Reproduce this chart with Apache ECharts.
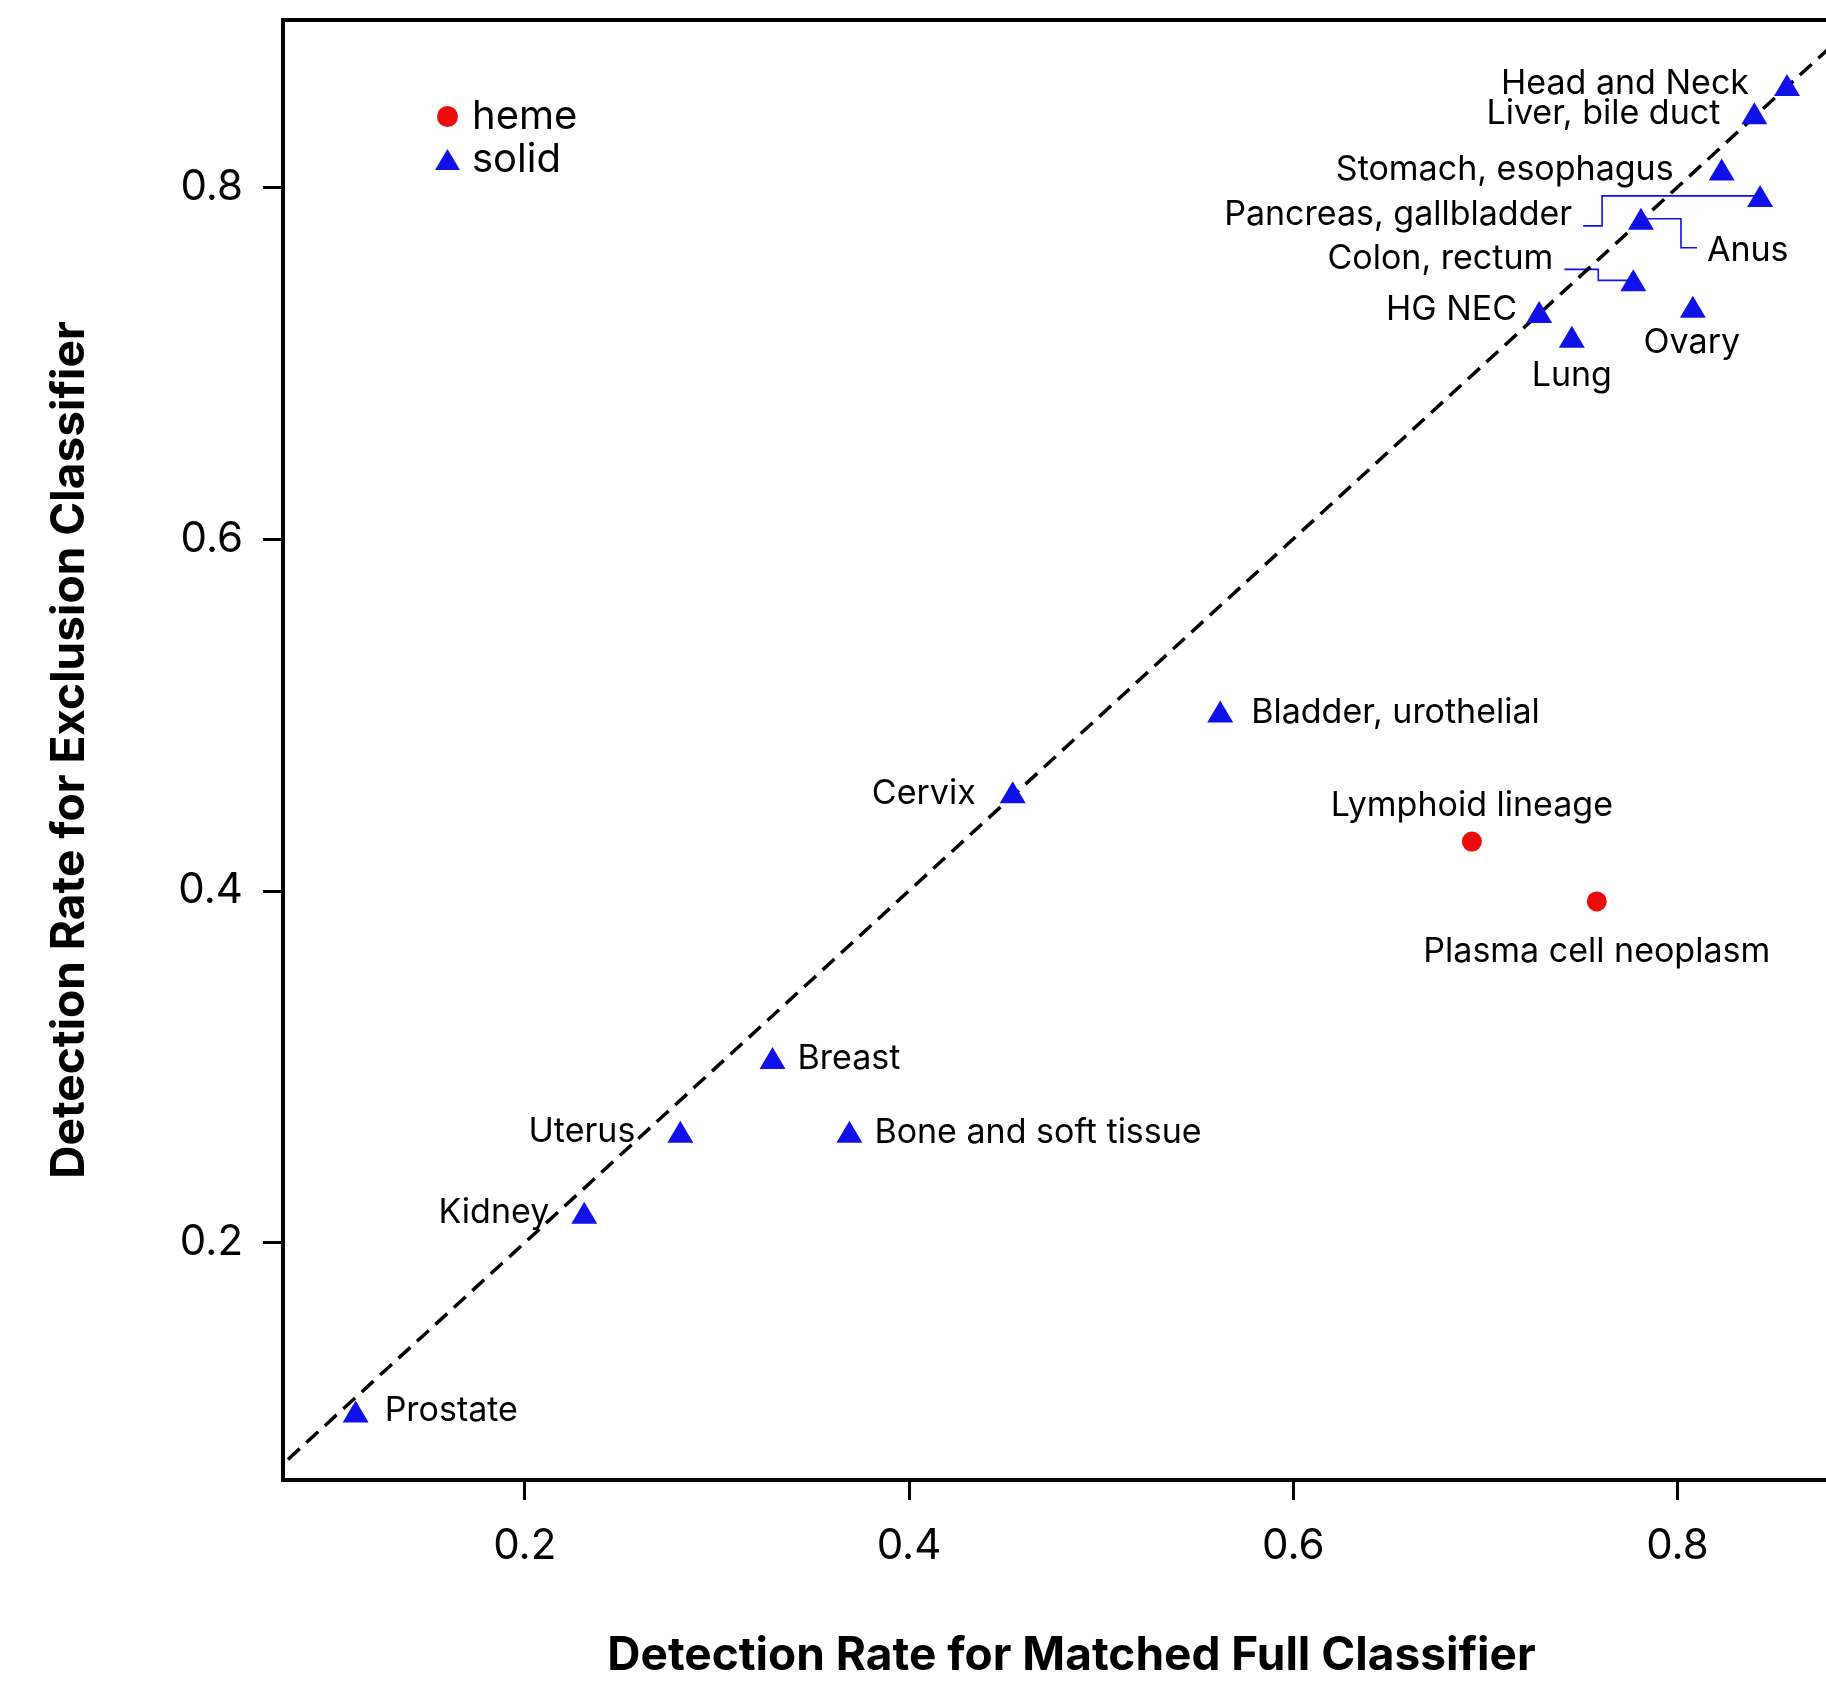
<!DOCTYPE html>
<html>
<head>
<meta charset="utf-8">
<title>Detection rate: exclusion vs matched full classifier</title>
<script src="https://cdn.jsdelivr.net/npm/echarts@6/dist/echarts.min.js"></script>
<style>
  html, body { margin: 0; padding: 0; background: #fff; }
  #chart { width: 1826px; height: 1685px; }
</style>
</head>
<body>
<div id="chart"></div>
<script>
// values
const cancerTypes = [
  'Head and Neck', 'Liver, bile duct', 'Stomach, esophagus', 'Pancreas, gallbladder',
  'Anus', 'Colon, rectum', 'HG NEC', 'Lung', 'Ovary', 'Bladder, urothelial',
  'Cervix', 'Lymphoid lineage', 'Plasma cell neoplasm', 'Breast', 'Uterus',
  'Bone and soft tissue', 'Kidney', 'Prostate'
];
const fullClassifierRate = [
  0.857, 0.840, 0.823, 0.843,
  0.781, 0.777, 0.728, 0.745, 0.808, 0.562,
  0.454, 0.693, 0.758, 0.329, 0.281,
  0.369, 0.231, 0.112
];
const exclusionClassifierRate = [
  0.858, 0.842, 0.810, 0.795,
  0.782, 0.747, 0.729, 0.715, 0.732, 0.502,
  0.456, 0.428, 0.394, 0.305, 0.263,
  0.263, 0.217, 0.104
];
const lineage = [
  'solid', 'solid', 'solid', 'solid',
  'solid', 'solid', 'solid', 'solid', 'solid', 'solid',
  'solid', 'heme', 'heme', 'solid', 'solid',
  'solid', 'solid', 'solid'
];
const xTicks = [0.2, 0.4, 0.6, 0.8];
const yTicks = [0.2, 0.4, 0.6, 0.8];
const identityLine = [0, 1];

// where each annotation sits, in px from its marker: [align, dx, dy]
const labelPlace = {
  'Head and Neck': ['right', -38, -1],
  'Liver, bile duct': ['right', -34, 1],
  'Stomach, esophagus': ['right', -48, 0],
  'Pancreas, gallbladder': ['right', -188, 19],
  'Anus': ['left', 66, 32],
  'Colon, rectum': ['right', -80, -22],
  'HG NEC': ['right', -22, -2],
  'Lung': ['center', 0, 39],
  'Ovary': ['center', -1, 36],
  'Bladder, urothelial': ['left', 31, 1],
  'Cervix': ['right', -37, 1],
  'Lymphoid lineage': ['center', 0, -36],
  'Plasma cell neoplasm': ['center', 0, 50],
  'Breast': ['left', 25, 1],
  'Uterus': ['right', -45, 0],
  'Bone and soft tissue': ['left', 25, 1],
  'Kidney': ['right', -35, 0],
  'Prostate': ['left', 29, -1]
};
// elbow leader lines (px from marker)
const leaders = {
  'Pancreas, gallbladder': [[-177, 30], [-158, 30], [-158, 0], [0, 0]],
  'Anus': [[0, 0], [40, 0], [40, 29], [56, 29]],
  'Colon, rectum': [[-69, -11], [-35, -11], [-35, 0], [0, 0]]
};

const RED = '#ec0b0b';
const BLUE = '#1010e8';
const FONT = 'Inter';

function pointsFor(group) {
  const out = [];
  cancerTypes.forEach(function (name, i) {
    if (lineage[i] !== group) return;
    const p = labelPlace[name];
    out.push({
      name: name,
      value: [fullClassifierRate[i], exclusionClassifierRate[i]],
      label: { align: p[0], offset: [p[1], p[2]] }
    });
  });
  return out;
}

const leaderData = Object.keys(leaders).map(function (name) {
  const i = cancerTypes.indexOf(name);
  return [fullClassifierRate[i], exclusionClassifierRate[i], i];
});

const pointLabel = {
  show: true,
  position: 'inside',
  formatter: '{b}',
  color: '#000',
  opacity: 1,
  fontFamily: FONT,
  fontSize: 34,
  verticalAlign: 'middle'
};

const chart = echarts.init(document.getElementById('chart'));
chart.setOption({
  animation: false,
  backgroundColor: '#fff',
  grid: {
    left: 283,
    top: 20,
    right: -34,
    bottom: 205,
    show: true,
    borderColor: '#000',
    borderWidth: 4,
    outerBoundsMode: 'none'
  },
  legend: {
    orient: 'vertical',
    left: 430,
    top: 90,
    itemWidth: 25,
    itemHeight: 21,
    itemGap: 0,
    selectedMode: false,
    textStyle: { fontFamily: FONT, fontSize: 40, color: '#000', lineHeight: 43, padding: [0, 0, 0, 7] },
    data: [
      { name: 'heme', icon: 'circle' },
      { name: 'solid', icon: 'triangle' }
    ]
  },
  xAxis: {
    type: 'value',
    min: 0.0742,
    max: 0.895,
    name: 'Detection Rate for Matched Full Classifier',
    nameLocation: 'middle',
    nameGap: 153,
    nameTextStyle: { fontFamily: FONT, fontSize: 46, fontWeight: 'bold', color: '#000' },
    axisLine: { show: true, lineStyle: { color: '#000', width: 4 } },
    axisTick: { show: true, length: 20, customValues: xTicks, lineStyle: { color: '#000', width: 3 } },
    axisLabel: {
      customValues: xTicks,
      margin: 45,
      fontFamily: FONT,
      fontSize: 42,
      color: '#000',
      formatter: function (v) { return v.toFixed(1); }
    },
    splitLine: { show: false }
  },
  yAxis: {
    type: 'value',
    min: 0.0651,
    max: 0.895,
    name: 'Detection Rate for Exclusion Classifier',
    nameLocation: 'middle',
    nameGap: 190,
    nameTextStyle: { fontFamily: FONT, fontSize: 46, fontWeight: 'bold', color: '#000' },
    axisLine: { show: true, lineStyle: { color: '#000', width: 4 } },
    axisTick: { show: true, length: 20, customValues: yTicks, lineStyle: { color: '#000', width: 3 } },
    axisLabel: {
      customValues: yTicks,
      margin: 40,
      fontFamily: FONT,
      fontSize: 42,
      color: '#000',
      formatter: function (v) { return v.toFixed(1); }
    },
    splitLine: { show: false }
  },
  series: [
    {
      name: 'y = x',
      type: 'line',
      data: identityLine.map(function (v) { return [v, v]; }),
      symbol: 'none',
      silent: true,
      clip: true,
      z: 1,
      lineStyle: { color: '#000', width: 3.5, type: [16, 9] }
    },
    {
      type: 'custom',
      silent: true,
      z: 1,
      data: leaderData,
      renderItem: function (params, api) {
        const c = api.coord([api.value(0), api.value(1)]);
        const name = cancerTypes[api.value(2)];
        const pts = leaders[name].map(function (o) { return [c[0] + o[0], c[1] + o[1]]; });
        return {
          type: 'polyline',
          shape: { points: pts },
          style: { stroke: BLUE, lineWidth: 1.6, fill: null }
        };
      }
    },
    {
      name: 'heme',
      type: 'scatter',
      symbol: 'circle',
      symbolSize: 20,
      z: 3,
      itemStyle: { color: RED, opacity: 1 },
      label: pointLabel,
      data: pointsFor('heme')
    },
    {
      name: 'solid',
      type: 'scatter',
      symbol: 'triangle',
      symbolSize: [26, 22],
      z: 3,
      itemStyle: { color: BLUE, opacity: 1 },
      label: pointLabel,
      data: pointsFor('solid')
    }
  ]
});
</script>
</body>
</html>
